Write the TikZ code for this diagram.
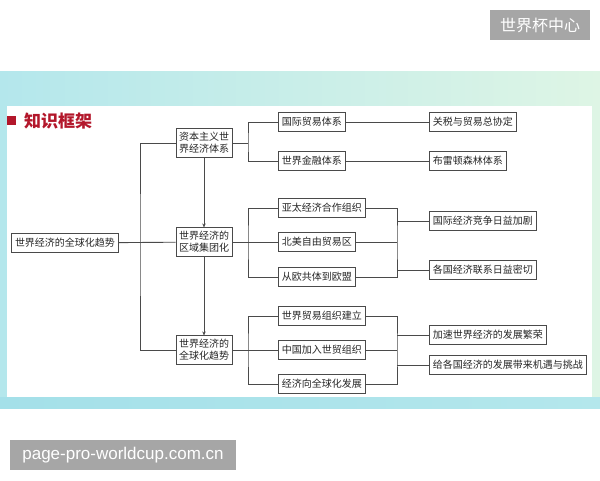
\documentclass[tikz,border=0pt]{standalone}
\usepackage{fontspec}
\setmainfont{Liberation Sans}
\newfontfamily\cjk{Noto Sans CJK SC}
\usetikzlibrary{arrows.meta,positioning}

\definecolor{linegray}{HTML}{4A4A4A}
\definecolor{titlered}{HTML}{B3172B}
\definecolor{framecyan}{HTML}{B4E7EC}
\definecolor{framemint}{HTML}{DEF5E5}
\definecolor{framedeep}{HTML}{A4E0E9}
\definecolor{markgray}{HTML}{A6A6A6}

\tikzset{
  kbox/.style={draw=linegray, line width=0.9pt, fill=white, text=black!85,
    font=\cjk\fontsize{10}{12}\selectfont, inner xsep=3.5pt, inner ysep=0pt,
    minimum height=19pt},
  kbox2/.style={kbox, align=center, inner xsep=3pt, inner ysep=3.5pt},
  link/.style={draw=linegray, line width=0.9pt},
  flow/.style={link, -{Stealth[length=4pt,width=3.5pt]}},
  wmark/.style={fill=markgray, text=white, inner sep=0pt},
}

\begin{document}
\begin{tikzpicture}[x=1pt,y=-1pt]
  \useasboundingbox (0,0) rectangle (600,480);
  % frame of the slide
  \shade[left color=framecyan, right color=framemint] (0,71) rectangle (600,408);
  \shade[left color=framedeep, right color=framecyan] (0,397) rectangle (600,408);
  \fill[white] (7,106) rectangle (592,397);

  % watermarks
  \node[wmark, minimum width=100pt, minimum height=30pt, font=\cjk\fontsize{16}{16}\selectfont] (wmtop) at (540,25) {世界杯中心};
  \node[wmark, minimum width=226pt, minimum height=30pt, font=\fontsize{17}{17}\selectfont] (wmbot) at (123,455) {page-pro-worldcup.com.cn};

  % title
  \node[fill=titlered, minimum size=9pt, inner sep=0pt] (sq) at (11.5,120.5) {};
  \node[anchor=west, inner sep=0pt, text=titlered, font=\cjk\bfseries\fontsize{17}{17}\selectfont] (title) at (24,121) {知识框架};

  % main boxes
  \node[kbox] (root) at (65,243) {世界经济的全球化趋势};
  \node[kbox2] (zbzy) at (204,143) {资本主义世\\界经济体系};
  \node[kbox2] (qyjt) at (204,242) {世界经济的\\区域集团化};
  \node[kbox2] (qqh) at (204,350) {世界经济的\\全球化趋势};

  % second column
  \node[kbox, anchor=west] (gjmy) at (278,122) {国际贸易体系};
  \node[kbox, anchor=west] (sjjr) at (278,161) {世界金融体系};
  \node[kbox, anchor=west] (ytjj) at (278,208) {亚太经济合作组织};
  \node[kbox, anchor=west] (bmzy) at (278,242) {北美自由贸易区};
  \node[kbox, anchor=west] (coty) at (278,277) {从欧共体到欧盟};
  \node[kbox, anchor=west] (sjmy) at (278,316) {世界贸易组织建立};
  \node[kbox, anchor=west] (zgjr) at (278,350) {中国加入世贸组织};
  \node[kbox, anchor=west] (jjqq) at (278,384) {经济向全球化发展};

  % third column
  \node[kbox, anchor=west] (gatt) at (429,122) {关税与贸易总协定};
  \node[kbox, anchor=west] (bltz) at (429,161) {布雷顿森林体系};
  \node[kbox, anchor=west] (jzjj) at (429,221) {国际经济竞争日益加剧};
  \node[kbox, anchor=west] (lxmq) at (429,270) {各国经济联系日益密切};
  \node[kbox, anchor=west] (fzfr) at (429,335) {加速世界经济的发展繁荣};
  \node[kbox, anchor=west] (jytz) at (429,365) {给各国经济的发展带来机遇与挑战};

  % junctions
  \coordinate (trunk) at (140,243);
  \coordinate (ja) at (248,143);
  \coordinate (jb) at (248,242);
  \coordinate (jc) at (248,350);
  \coordinate (kb) at (397,242);
  \coordinate (kc) at (397,350);

  % connectors
  \draw[link] (root) -- (qyjt);
  \draw[link] (zbzy.west) -| (trunk) |- (qqh.west);
  \draw[flow] (zbzy) -- (qyjt);
  \draw[flow] (qyjt) -- (qqh);

  \draw[link] (zbzy.east) -- (ja);
  \draw[link] (gjmy.west) -| (ja) |- (sjjr.west);
  \draw[link] (gjmy) -- (gatt);
  \draw[link] (sjjr) -- (bltz);

  \draw[link] (qyjt) -- (bmzy);
  \draw[link] (ytjj.west) -| (jb) |- (coty.west);
  \draw[link] (ytjj.east) -| (kb) |- (coty.east);
  \draw[link] (bmzy.east) -- (bmzy.east -| kb);
  \draw[link] (jzjj.west) -- (jzjj.west -| kb);
  \draw[link] (lxmq.west) -- (lxmq.west -| kb);

  \draw[link] (qqh) -- (zgjr);
  \draw[link] (sjmy.west) -| (jc) |- (jjqq.west);
  \draw[link] (sjmy.east) -| (kc) |- (jjqq.east);
  \draw[link] (zgjr.east) -- (zgjr.east -| kc);
  \draw[link] (fzfr.west) -- (fzfr.west -| kc);
  \draw[link] (jytz.west) -- (jytz.west -| kc);
\end{tikzpicture}
\end{document}
